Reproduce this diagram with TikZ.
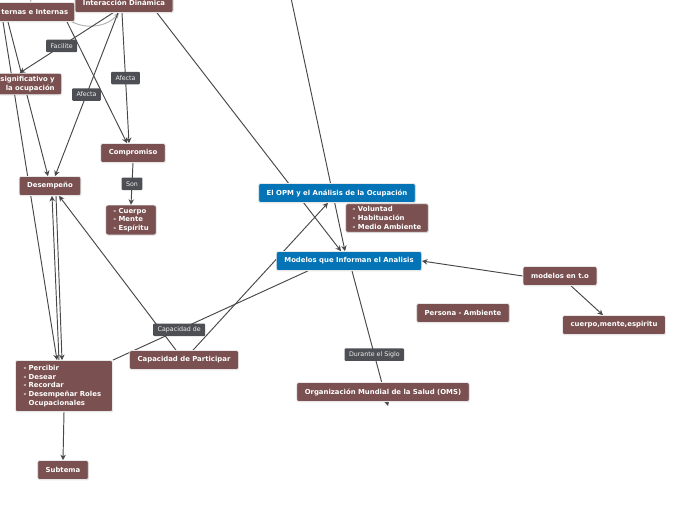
\documentclass[tikz,border=0pt]{standalone}
\usepackage{fontspec}
\setmainfont{DejaVu Sans}
\definecolor{MapBrown}{RGB}{122,80,80}
\definecolor{MapBlue}{RGB}{4,116,182}
\definecolor{TagGray}{RGB}{77,79,84}
\definecolor{LinkGray}{RGB}{72,72,74}
\usepackage{tikz}
\usetikzlibrary{arrows.meta, positioning, backgrounds, shadows}

\begin{document}
\begin{tikzpicture}[
    x=1pt, y=-1pt,
    box/.style={rectangle, rounded corners=2pt, draw=white!82!gray, line width=0.7pt,
                text=white, font=\fontsize{6.9}{8.6}\selectfont\bfseries,
                minimum height=19pt, inner xsep=8pt, inner ysep=3pt,
                drop shadow={opacity=0.18, shadow xshift=0.5pt, shadow yshift=-0.9pt}},
    mapbox/.style={box, fill=MapBrown},
    bluebox/.style={box, fill=MapBlue},
    lbl/.style={rectangle, rounded corners=1pt, fill=TagGray, text=white!88!gray,
                font=\fontsize{6.3}{7.5}\selectfont, inner xsep=4.5pt, inner ysep=2pt,
                minimum height=12.5pt},
    arr/.style={-{Stealth[length=5.5pt, width=5.5pt]}, line width=0.95pt, LinkGray},
    lnk/.style={line width=0.95pt, LinkGray},
    soft/.style={line width=0.95pt, gray!60}
  ]
    \useasboundingbox (0,0) rectangle (696,520);
    \clip (0,0) rectangle (696,520);

    % upper left cluster
    \node[mapbox] (inter) at (124,3) {Interacción Dinámica};
    \node[mapbox, anchor=east, inner xsep=6.5pt, text width=88pt, align=right] (ternas) at (75,12) {ternas e Internas};
    \node[mapbox, anchor=east, inner xsep=7pt, text width=70pt, align=right] (signif) at (62,84) {significativo y\\la ocupación};
    \node[mapbox] (compro) at (133,153) {Compromiso};
    \node[mapbox, align=left, inner xsep=7.5pt] (cuerpo) at (131,220) {- Cuerpo\\- Mente\\- Espíritu};
    \node[mapbox] (desemp) at (50,186) {Desempeño};

    % centre
    \node[bluebox] (opm) at (337,193) {El OPM y el Análisis de la Ocupación};
    \node[mapbox, align=left, inner xsep=7pt] (volun) at (387,218) {- Voluntad\\- Habituación\\- Medio Ambiente};
    \node[bluebox] (modelos) at (349,261) {Modelos que Informan el Analisis};
    \node[mapbox] (modto) at (560,276) {modelos en t.o};
    \node[mapbox] (persona) at (463,313) {Persona - Ambiente};
    \node[mapbox] (cme) at (614,325) {cuerpo,mente,espiritu};
    \node[mapbox] (oms) at (383,392) {Organización Mundial de la Salud (OMS)};

    % lower left
    \node[mapbox] (capart) at (184,360) {Capacidad de Participar};
    \node[mapbox, align=left, text width=81pt, inner ysep=5pt] (percib) at (64,386)
      {- Percibir\\- Desear\\- Recordar\\- Desempeñar Roles\\\phantom{- }Ocupacionales};
    \node[mapbox] (subtema) at (63,470) {Subtema};

    \coordinate (offtop) at (291,-2);
    \coordinate (omsend) at (388,406);

    \begin{scope}[on background layer]
      \draw[arr] (offtop) -- ([xshift=-4pt]modelos.north);
      \draw[arr] ([xshift=33pt]inter.south) -- ([xshift=-8pt]modelos.north);
      \draw[arr] ([xshift=9pt]capart.north) -- ([xshift=-9pt]opm.south);
      \draw[arr] ([xshift=-8pt]capart.north) -- ([xshift=9pt]desemp.south);
      \draw[arr] ([xshift=-5pt]percib.north) -- ([xshift=2pt]desemp.south);
      \draw[arr] ([xshift=6pt]desemp.south) -- ([xshift=-2pt]percib.north);
      \draw[arr] (ternas.south -| 8,0) -- ([xshift=-2pt]desemp.north);
      \draw[arr] (ternas.south -| 3,0) -- ([xshift=-7pt]percib.north);
      \draw[arr] ([xshift=-8pt]ternas.south east) -- ([xshift=-6pt]compro.north);
      \draw[arr] (percib.south) -- (subtema.north);
      \draw[arr] (modto.west) -- (modelos.east);
      \draw[arr] ([xshift=11pt]modto.south) -- ([xshift=-11pt]cme.north);
      \draw[-{Stealth[length=5.5pt, width=5.5pt]}, soft] ([xshift=-3pt]ternas.south east)
        .. controls (88,30) and (108,26) .. ([xshift=-5pt]inter.south);
      \draw[soft] (30,3) .. controls (31,-10) and (80,-20) .. (inter.north);
      \draw[lnk] ([xshift=-41pt]modelos.south) -- node[lbl, pos=0.66] (capde) {Capacidad de} (percib.north east);
      \draw[arr] ([xshift=3pt]modelos.south) -- node[lbl, pos=0.62] (siglo) {Durante el Siglo} (omsend);
      \draw[arr] ([xshift=-11pt]inter.south) -- node[lbl, pos=0.55] (facil) {Facilite} (signif.north);
      \draw[arr] ([xshift=-6pt]inter.south) -- node[lbl, pos=0.5] (afectaL) {Afecta} ([xshift=5pt]desemp.north);
      \draw[arr] ([xshift=-2pt]inter.south) -- node[lbl, pos=0.5] (afectaR) {Afecta} ([xshift=-4pt]compro.north);
      \draw[arr] (compro.south) -- node[lbl] (son) {Son} (cuerpo.north);
    \end{scope}
\end{tikzpicture}
\end{document}
